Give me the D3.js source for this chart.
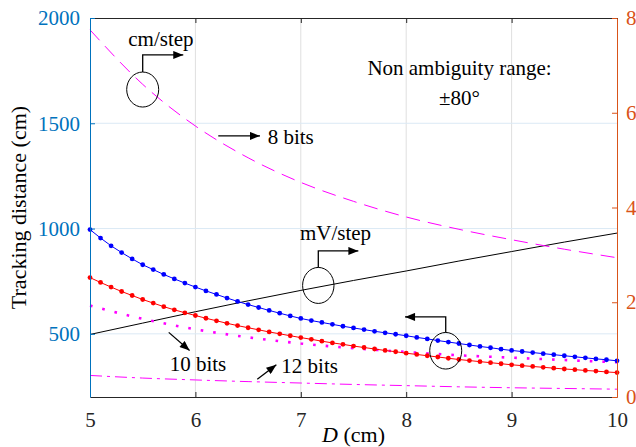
<!DOCTYPE html>
<html>
<head>
<meta charset="utf-8">
<script src="https://cdn.jsdelivr.net/npm/d3@7"></script>
<style>
  body { margin: 0; background: #fff; }
  svg { display: block; font-family: "Liberation Serif", "DejaVu Serif", serif; }
</style>
</head>
<body>
<div id="chart"></div>
<script>
// distance D (cm), one point every 0.1
const dFine = d3.range(51).map((i) => 5 + i / 10);
// coarse readings every 0.5
const dCoarse = [5, 5.5, 6, 6.5, 7, 7.5, 8, 8.5, 9, 9.5, 10];

// tracking distance (cm), left axis
const trackBlue = [
  995, 955, 918, 886, 856, 828, 805, 782, 761, 741,
  722, 704, 687, 670, 654, 639, 625, 611, 598, 585,
  573, 563, 554, 545, 536, 528, 520, 512, 505, 498,
  491, 483, 476, 468, 461, 454, 447, 440, 434, 427,
  421, 416, 411, 406, 401, 396, 391, 386, 381, 377, 372,
];
const trackRed = [
  767, 744, 722, 701, 682, 663, 646, 629, 614, 600,
  587, 574, 562, 550, 539, 529, 519, 509, 500, 491,
  482, 474, 465, 457, 450, 442, 435, 428, 421, 415,
  408, 402, 396, 390, 384, 378, 373, 368, 363, 358,
  353, 349, 345, 341, 337, 333, 330, 326, 323, 319, 316,
];

// right axis: cm/step and mV/step
const cmStep8 = [7.75, 6.6, 5.72, 5.05, 4.53, 4.13, 3.8, 3.54, 3.32, 3.12, 2.94];
const cmStep10 = [1.93, 1.65, 1.43, 1.26, 1.13, 1.03, 0.95, 0.88, 0.83, 0.78, 0.735];
const cmStep12 = [0.455, 0.4, 0.36, 0.325, 0.295, 0.265, 0.24, 0.215, 0.195, 0.18, 0.165];
const mvStep = [1.32, 1.56, 1.8, 2.03, 2.25, 2.46, 2.66, 2.87, 3.07, 3.27, 3.46];

const xTicks = [5, 6, 7, 8, 9, 10];
const leftTicks = [500, 1000, 1500, 2000];
const rightTicks = [0, 2, 4, 6, 8];

const width = 636;
const height = 447;
const margin = { left: 90, right: 19, top: 18, bottom: 50 };

const fontStack = '"Liberation Serif", "DejaVu Serif", serif';
const tickSize = 21;
const textSize = 21;

const leftColor = "#0072BD";
const rightColor = "#D95319";
const axisColor = "#262626";

const svg = d3
  .select("#chart")
  .append("svg")
  .attr("width", width)
  .attr("height", height);

const x = d3
  .scaleLinear()
  .domain([5, 10])
  .range([margin.left, width - margin.right]);
const yL = d3
  .scaleLinear()
  .domain([200, 2000])
  .range([height - margin.bottom, margin.top]);
const yR = d3
  .scaleLinear()
  .domain([0, 8])
  .range([height - margin.bottom, margin.top]);

const defs = svg.append("defs");
defs
  .append("marker")
  .attr("id", "arrow")
  .attr("viewBox", "0 0 10 8")
  .attr("refX", 10)
  .attr("refY", 4)
  .attr("markerWidth", 11)
  .attr("markerHeight", 8)
  .attr("markerUnits", "userSpaceOnUse")
  .attr("orient", "auto")
  .append("path")
  .attr("d", "M0,0 L10,4 L0,8 Z")
  .attr("fill", "#000");

// grid
const grid = svg.append("g");
grid
  .selectAll(".vgrid")
  .data(xTicks.slice(1, -1))
  .join("line")
  .attr("x1", (d) => x(d))
  .attr("x2", (d) => x(d))
  .attr("y1", margin.top)
  .attr("y2", height - margin.bottom)
  .attr("stroke", "#dfdfdf");
grid
  .selectAll(".hgrid")
  .data(leftTicks.slice(0, -1))
  .join("line")
  .attr("x1", margin.left)
  .attr("x2", width - margin.right)
  .attr("y1", (d) => yL(d))
  .attr("y2", (d) => yL(d))
  .attr("stroke", "#dbe9f5");

const lineL = (xs, ys) =>
  d3
    .line()
    .x((d, i) => x(xs[i]))
    .y((d) => yL(d))(ys);
const lineR = (xs, ys) =>
  d3
    .line()
    .curve(d3.curveMonotoneX)
    .x((d, i) => x(xs[i]))
    .y((d) => yR(d))(ys);

const plot = svg.append("g");

// right axis series
plot
  .append("path")
  .attr("d", lineR(dCoarse, mvStep))
  .attr("fill", "none")
  .attr("stroke", "#000")
  .attr("stroke-width", 1);
plot
  .append("path")
  .attr("d", lineR(dCoarse, cmStep8))
  .attr("fill", "none")
  .attr("stroke", "#ff00ff")
  .attr("stroke-width", 1)
  .attr("stroke-dasharray", "14,8");
plot
  .append("path")
  .attr("d", lineR(dCoarse, cmStep10))
  .attr("fill", "none")
  .attr("stroke", "#ff00ff")
  .attr("stroke-width", 2.6)
  .attr("stroke-dasharray", "2.6,10");
plot
  .append("path")
  .attr("d", lineR(dCoarse, cmStep12))
  .attr("fill", "none")
  .attr("stroke", "#ff00ff")
  .attr("stroke-width", 1)
  .attr("stroke-dasharray", "12,5,3,5");

// left axis series with markers
[
  { values: trackBlue, color: "#0000ff" },
  { values: trackRed, color: "#ff0000" },
].forEach((s) => {
  plot
    .append("path")
    .attr("d", lineL(dFine, s.values))
    .attr("fill", "none")
    .attr("stroke", s.color)
    .attr("stroke-width", 1);
  plot
    .append("g")
    .selectAll("circle")
    .data(s.values)
    .join("circle")
    .attr("cx", (d, i) => x(dFine[i]))
    .attr("cy", (d) => yL(d))
    .attr("r", 2.4)
    .attr("fill", s.color);
});

// axes
const styleAxis = (g, color) => {
  g.attr("font-family", fontStack).attr("font-size", tickSize);
  g.select(".domain").attr("stroke", color);
  g.selectAll(".tick line").attr("stroke", color);
  g.selectAll(".tick text").attr("fill", color);
};

svg
  .append("g")
  .attr("transform", `translate(0,${margin.top})`)
  .call(d3.axisTop(x).tickValues(xTicks).tickSizeInner(-5).tickSizeOuter(0).tickFormat(""))
  .call((g) => styleAxis(g, axisColor));

svg
  .append("g")
  .attr("transform", `translate(0,${height - margin.bottom})`)
  .call(
    d3.axisBottom(x).tickValues(xTicks).tickSizeInner(-5).tickSizeOuter(0)
      .tickPadding(15).tickFormat(d3.format("d"))
  )
  .call((g) => styleAxis(g, axisColor));

svg
  .append("g")
  .attr("transform", `translate(${margin.left},0)`)
  .call(
    d3.axisLeft(yL).tickValues(leftTicks).tickSizeInner(-5).tickSizeOuter(0)
      .tickPadding(10).tickFormat(d3.format("d"))
  )
  .call((g) => styleAxis(g, leftColor));

svg
  .append("g")
  .attr("transform", `translate(${width - margin.right},0)`)
  .call(
    d3.axisRight(yR).tickValues(rightTicks).tickSizeInner(-5).tickSizeOuter(0)
      .tickPadding(9).tickFormat(d3.format("d"))
  )
  .call((g) => styleAxis(g, rightColor));

// axis titles
svg
  .append("text")
  .attr("transform", `translate(26,${(margin.top + height - margin.bottom) / 2}) rotate(-90)`)
  .attr("text-anchor", "middle")
  .style("font-size", "22px")
  .text("Tracking distance (cm)");

const xTitle = svg
  .append("text")
  .attr("x", (margin.left + width - margin.right) / 2)
  .attr("y", 442)
  .attr("text-anchor", "middle")
  .style("font-size", "22px");
xTitle.append("tspan").style("font-style", "italic").text("D");
xTitle.append("tspan").text(" (cm)");

// annotations
const ann = svg.append("g").attr("fill", "none").attr("stroke", "#000");

const callout = (cx, cy, rx, ry, topY, endX) => {
  ann
    .append("ellipse")
    .attr("cx", x(cx))
    .attr("cy", yR(cy))
    .attr("rx", rx)
    .attr("ry", ry)
    .attr("stroke-width", 1);
  ann
    .append("path")
    .attr("d", `M${x(cx)},${yR(cy) - ry} V${yR(topY)} H${x(endX)}`)
    .attr("stroke-width", 1.3)
    .attr("marker-end", "url(#arrow)");
};

const arrow = (x1, y1, x2, y2) => {
  ann
    .append("line")
    .attr("x1", x(x1))
    .attr("y1", yR(y1))
    .attr("x2", x(x2))
    .attr("y2", yR(y2))
    .attr("stroke-width", 1.3)
    .attr("marker-end", "url(#arrow)");
};

const label = (tx, ty, text, anchor) => {
  svg
    .append("text")
    .attr("x", x(tx))
    .attr("y", yR(ty))
    .attr("text-anchor", anchor || "start")
    .style("font-size", textSize + "px")
    .text(text);
};

callout(5.5, 6.49, 16, 17.5, 7.22, 5.885);
label(5.363, 7.4, "cm/step");

arrow(6.217, 5.51, 6.613, 5.51);
label(6.686, 5.35, "8 bits");

callout(7.166, 2.355, 15.7, 18, 3.083, 7.546);
label(6.992, 3.32, "mV/step");

callout(8.375, 0.976, 16, 18.3, 1.691, 7.989);

arrow(5.747, 1.364, 5.945, 0.982);
label(5.756, 0.558, "10 bits");

arrow(6.587, 0.376, 6.768, 0.679);
label(6.815, 0.503, "12 bits");

label(8.506, 6.79, "Non ambiguity range:", "middle");
label(8.506, 6.17, "±80°", "middle");
</script>
</body>
</html>
